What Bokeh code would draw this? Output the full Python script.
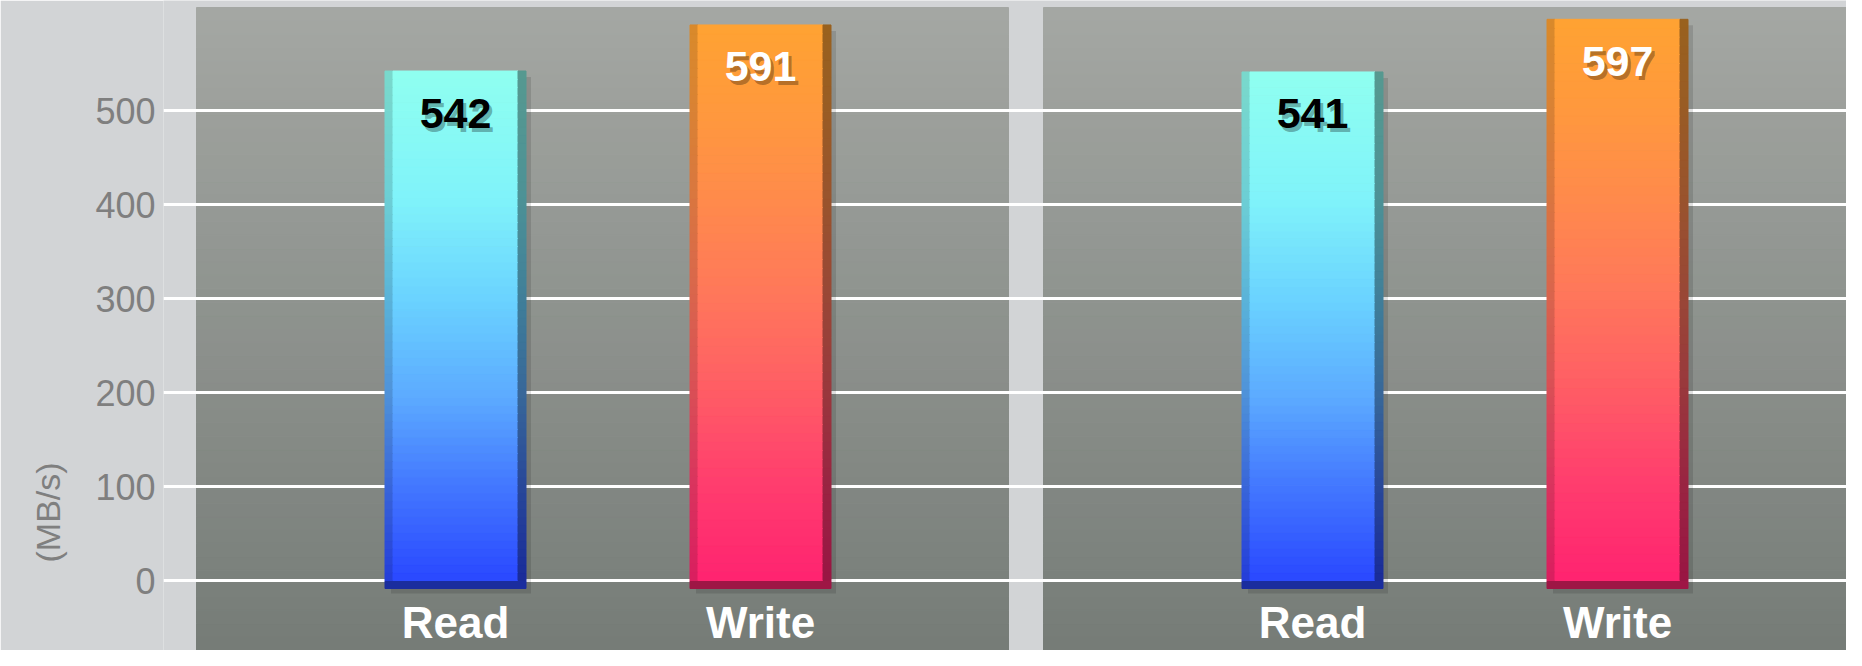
import numpy as np
from bokeh.plotting import figure
from bokeh.models import Range1d, FixedTicker, Title, ColumnDataSource
from bokeh.core.properties import value
from bokeh.embed import file_html
from bokeh.resources import INLINE

# ---------------- data ----------------
categories = ["Read", "Write"]
left_values = [542, 591]
right_values = [541, 597]
panels = [left_values, right_values]
y_ticks = [0, 100, 200, 300, 400, 500]
y_axis_label = "(MB/s)"

# ---------------- layout / style ----------------
W, H = 1846, 650
FRAME_LEFT = 163
FRAME_W = W - FRAME_LEFT
PX_PER_UNIT = 0.94
ZERO_FROM_TOP = 580
Y_TOP = ZERO_FROM_TOP / PX_PER_UNIT
Y_BOTTOM = -(H - ZERO_FROM_TOP) / PX_PER_UNIT
PANEL_TOP_Y = (ZERO_FROM_TOP - 7) / PX_PER_UNIT

FIRST_CENTER = 292
CAT_STEP = 305
GROUP_STEP = 857
BAR_W = 141
BEVEL = 8
PANEL_SPANS = [(33, 845), (880, FRAME_W + 5)]

LIGHT = "#d2d4d6"
PANEL_TOP = (164, 167, 163)
PANEL_BOTTOM = (118, 124, 119)
TICK_COLOR = "#7f7f7f"
FONT = "Liberation Sans"

read_stops = [(0.0, (42, 72, 255)), (0.18, (66, 118, 255)), (0.36, (92, 170, 255)),
              (0.55, (106, 210, 255)), (0.75, (128, 243, 250)), (1.0, (143, 255, 240))]
write_stops = [(0.0, (255, 35, 112)), (0.18, (255, 62, 110)), (0.36, (255, 96, 100)),
               (0.52, (255, 120, 90)), (0.7, (255, 140, 74)), (0.86, (255, 154, 60)),
               (1.0, (255, 162, 50))]
series_stops = [read_stops, write_stops]
label_colors = ["black", "white"]


def interp(stops, t):
    for (p0, c0), (p1, c1) in zip(stops[:-1], stops[1:]):
        if t <= p1:
            f = (t - p0) / (p1 - p0) if p1 > p0 else 0
            return tuple(c0[k] + (c1[k] - c0[k]) * f for k in range(3))
    return stops[-1][1]


def hexc(rgb, k=1.0):
    return "#%02x%02x%02x" % tuple(int(max(0, min(255, round(c * k)))) for c in rgb)


p = figure(width=W, height=H, x_range=Range1d(0, FRAME_W), y_range=Range1d(Y_BOTTOM, Y_TOP),
           output_backend="svg", toolbar_location=None, x_axis_location=None,
           min_border_left=FRAME_LEFT, min_border_right=0, min_border_top=0, min_border_bottom=0,
           background_fill_color=LIGHT, border_fill_color=LIGHT, outline_line_color=None)

# dark panels with vertical gradient (drawn beneath the grid)
NB = 48
pl, pr, pb, pt, pc = [], [], [], [], []
for (l, r) in PANEL_SPANS:
    for i in range(NB):
        b = Y_BOTTOM + (PANEL_TOP_Y - Y_BOTTOM) * i / NB
        t = Y_BOTTOM + (PANEL_TOP_Y - Y_BOTTOM) * (i + 1) / NB
        f = (i + 0.5) / NB
        col = tuple(PANEL_BOTTOM[k] + (PANEL_TOP[k] - PANEL_BOTTOM[k]) * f for k in range(3))
        pl.append(l); pr.append(r); pb.append(b); pt.append(t); pc.append(hexc(col))
p.quad(left=pl, right=pr, bottom=pb, top=pt, fill_color=pc, line_color=pc, line_width=1,
       level="image")

# grid / axis
p.xgrid.visible = False
p.ygrid.ticker = FixedTicker(ticks=y_ticks)
p.ygrid.grid_line_color = "white"
p.ygrid.grid_line_width = 3
p.yaxis.ticker = FixedTicker(ticks=y_ticks)
p.yaxis.axis_line_color = None
p.yaxis.major_tick_line_color = None
p.yaxis.minor_tick_line_color = None
p.yaxis.major_tick_out = 0
p.yaxis.major_tick_in = 0
p.yaxis.major_label_standoff = 8
p.yaxis.major_label_text_font = FONT
p.yaxis.major_label_text_font_size = "36px"
p.yaxis.major_label_text_color = TICK_COLOR

p.add_layout(Title(text=y_axis_label, align="left", offset=88, standoff=52,
                   text_font=FONT, text_font_size="34px", text_font_style="normal",
                   text_color=TICK_COLOR), "left")

# bars
NS = 64
sh = dict(left=[], right=[], bottom=[], top=[])
sl = dict(left=[], right=[], bottom=[], top=[], color=[])
bb = dict(left=[], right=[], bottom=[], top=[], color=[])
cat_x, cat_text = [], []
val_x, val_y, val_text, val_color = [], [], [], []
for g, vals in enumerate(panels):
    for c, v in enumerate(vals):
        xc = FIRST_CENTER + g * GROUP_STEP + c * CAT_STEP
        x0, x1 = xc - BAR_W / 2, xc + BAR_W / 2
        stops = series_stops[c]
        sh["left"].append(x0 + 6); sh["right"].append(x1 + 5)
        sh["bottom"].append(-(BEVEL + 5) / PX_PER_UNIT); sh["top"].append(v - 6 / PX_PER_UNIT)
        for i in range(NS):
            b = v * i / NS
            t = v * (i + 1) / NS
            col = interp(stops, (i + 0.5) / NS)
            for (a, z, k) in [(x0, x0 + BEVEL, 0.85), (x0 + BEVEL, x1 - BEVEL, 1.0), (x1 - BEVEL, x1, 0.6)]:
                sl["left"].append(a); sl["right"].append(z)
                sl["bottom"].append(b); sl["top"].append(t); sl["color"].append(hexc(col, k))
        bb["left"].append(x0); bb["right"].append(x1)
        bb["bottom"].append(-BEVEL / PX_PER_UNIT); bb["top"].append(0)
        bb["color"].append(hexc(interp(stops, 0.0), 0.62))
        cat_x.append(xc); cat_text.append(categories[c])
        val_x.append(xc); val_y.append(v); val_text.append(str(v)); val_color.append(label_colors[c])

p.quad(source=ColumnDataSource(sh), left="left", right="right", bottom="bottom", top="top",
       fill_color="black", fill_alpha=0.12, line_color=None)
p.quad(source=ColumnDataSource(bb), left="left", right="right", bottom="bottom", top="top",
       fill_color="color", line_color="color", line_width=1)
p.quad(source=ColumnDataSource(sl), left="left", right="right", bottom="bottom", top="top",
       fill_color="color", line_color="color", line_width=1)

# value labels (with shadow)
vs = ColumnDataSource(dict(x=val_x, y=val_y, text=val_text, color=val_color))
p.text(x="x", y="y", text="text", source=vs, x_offset=3, y_offset=46, text_color="black",
       text_alpha=0.3, text_font=value(FONT), text_font_style="bold", text_font_size="43px",
       text_align="center", text_baseline="middle")
p.text(x="x", y="y", text="text", source=vs, y_offset=42, text_color="color",
       text_font=value(FONT), text_font_style="bold", text_font_size="43px",
       text_align="center", text_baseline="middle")

# category labels
cs = ColumnDataSource(dict(x=cat_x, y=[0] * len(cat_x), text=cat_text))
p.text(x="x", y="y", text="text", source=cs, y_offset=42, text_color="white",
       text_font=value(FONT), text_font_style="bold", text_font_size="44px",
       text_align="center", text_baseline="middle")

open("out.html", "w").write(file_html(p, INLINE))
